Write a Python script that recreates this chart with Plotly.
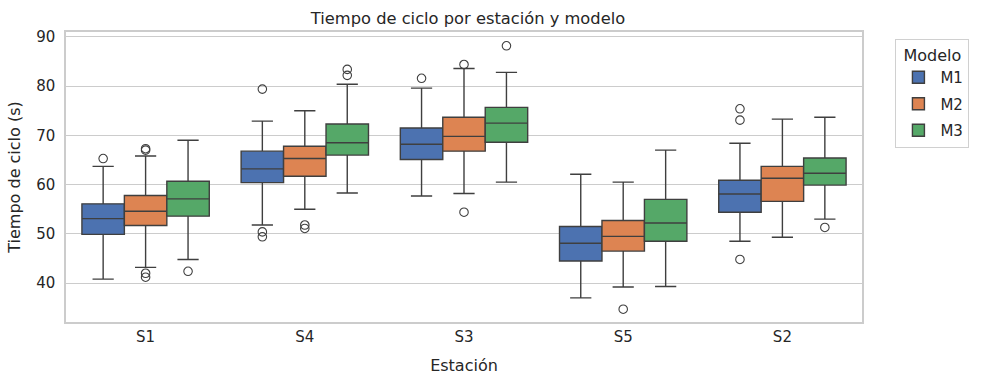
import plotly.graph_objects as go

estaciones = ["S1", "S4", "S3", "S5", "S2"]
modelos = ["M1", "M2", "M3"]
colores = ["#4c72b0", "#dd8452", "#55a868"]

# box statistics per model, in station order
q1 = {
    "M1": [49.9, 60.4, 65.1, 44.5, 54.4],
    "M2": [51.7, 61.7, 66.8, 46.5, 56.6],
    "M3": [53.6, 66.0, 68.6, 48.5, 59.9],
}
mediana = {
    "M1": [53.1, 63.2, 68.2, 48.1, 58.1],
    "M2": [54.6, 65.3, 69.8, 49.5, 61.3],
    "M3": [57.1, 68.5, 72.5, 52.2, 62.3],
}
q3 = {
    "M1": [56.1, 66.8, 71.5, 51.5, 60.9],
    "M2": [57.8, 67.8, 73.7, 52.7, 63.7],
    "M3": [60.7, 72.3, 75.7, 57.0, 65.4],
}
bigote_inf = {
    "M1": [40.8, 51.8, 57.7, 37.0, 48.5],
    "M2": [43.2, 55.0, 58.2, 39.2, 49.3],
    "M3": [44.8, 58.3, 60.5, 39.3, 53.0],
}
bigote_sup = {
    "M1": [63.7, 72.9, 79.6, 62.1, 68.4],
    "M2": [65.8, 75.0, 83.6, 60.5, 73.3],
    "M3": [69.0, 80.4, 82.8, 67.0, 73.7],
}
# outliers: (station, value)
atipicos = {
    "M1": [("S1", 65.3), ("S4", 79.4), ("S4", 50.4), ("S4", 49.4), ("S3", 81.6),
           ("S2", 75.4), ("S2", 73.1), ("S2", 44.8)],
    "M2": [("S1", 67.0), ("S1", 67.3), ("S1", 42.0), ("S1", 41.2), ("S4", 51.8),
           ("S4", 51.1), ("S3", 84.4), ("S3", 54.4), ("S5", 34.7)],
    "M3": [("S1", 42.4), ("S4", 83.4), ("S4", 82.2), ("S3", 88.2), ("S2", 51.3)],
}

ancho = 0.8 / len(modelos)
linea = "#3f3f3f"

fig = go.Figure()
for k, m in enumerate(modelos):
    off = (k - (len(modelos) - 1) / 2) * ancho
    xs = [i + off for i in range(len(estaciones))]
    fig.add_trace(go.Box(
        name=m, x=xs, q1=q1[m], median=mediana[m], q3=q3[m],
        lowerfence=bigote_inf[m], upperfence=bigote_sup[m],
        width=ancho, whiskerwidth=0.5, boxpoints=False,
        fillcolor=colores[k], line=dict(color=linea, width=1.4),
        hoverinfo="skip", legendgroup=m,
    ))
    ox = [estaciones.index(s) + off for s, v in atipicos[m]]
    oy = [v for s, v in atipicos[m]]
    fig.add_trace(go.Scatter(
        x=ox, y=oy, mode="markers", showlegend=False, legendgroup=m,
        marker=dict(symbol="circle-open", size=8.5, color=linea, line=dict(width=1.1)),
        hoverinfo="skip",
    ))

fig.update_layout(
    width=984, height=384,
    margin=dict(l=66, r=122, t=32, b=62),
    paper_bgcolor="white", plot_bgcolor="white",
    font=dict(family="DejaVu Sans", size=14, color="#262626"),
    title=dict(text="Tiempo de ciclo por estación y modelo", x=468 / 984,
               xanchor="center", y=1 - 18 / 384, yanchor="middle",
               font=dict(size=16.3)),
    showlegend=True,
    legend=dict(
        title=dict(text="Modelo", side="top center", font=dict(size=16)),
        x=1.042, xanchor="left", y=0.975, yanchor="top",
        bordercolor="#d0d0d0", borderwidth=1, bgcolor="white",
        font=dict(size=15), itemwidth=34, tracegroupgap=4,
    ),
    xaxis=dict(
        range=[-0.5, len(estaciones) - 0.5],
        tickvals=list(range(len(estaciones))), ticktext=estaciones,
        showgrid=False, zeroline=False, showline=True, mirror=True,
        linecolor="#cccccc", linewidth=1.5, ticks="", automargin=False,
        title=dict(text="Estación", font=dict(size=16), standoff=15),
        tickfont=dict(size=15),
    ),
    yaxis=dict(
        range=[32.1, 91.0], tickvals=[40, 50, 60, 70, 80, 90],
        showgrid=True, gridcolor="#cccccc", gridwidth=1.2, zeroline=False,
        showline=True, mirror=True, linecolor="#cccccc", linewidth=1.5, ticks="",
        automargin=False, ticklabelstandoff=6,
        title=dict(text="Tiempo de ciclo (s)", font=dict(size=16), standoff=12),
        tickfont=dict(size=15),
    ),
)

fig.write_html("out.html", config={"displayModeBar": False},
               post_script="document.body.style.margin='0';")
